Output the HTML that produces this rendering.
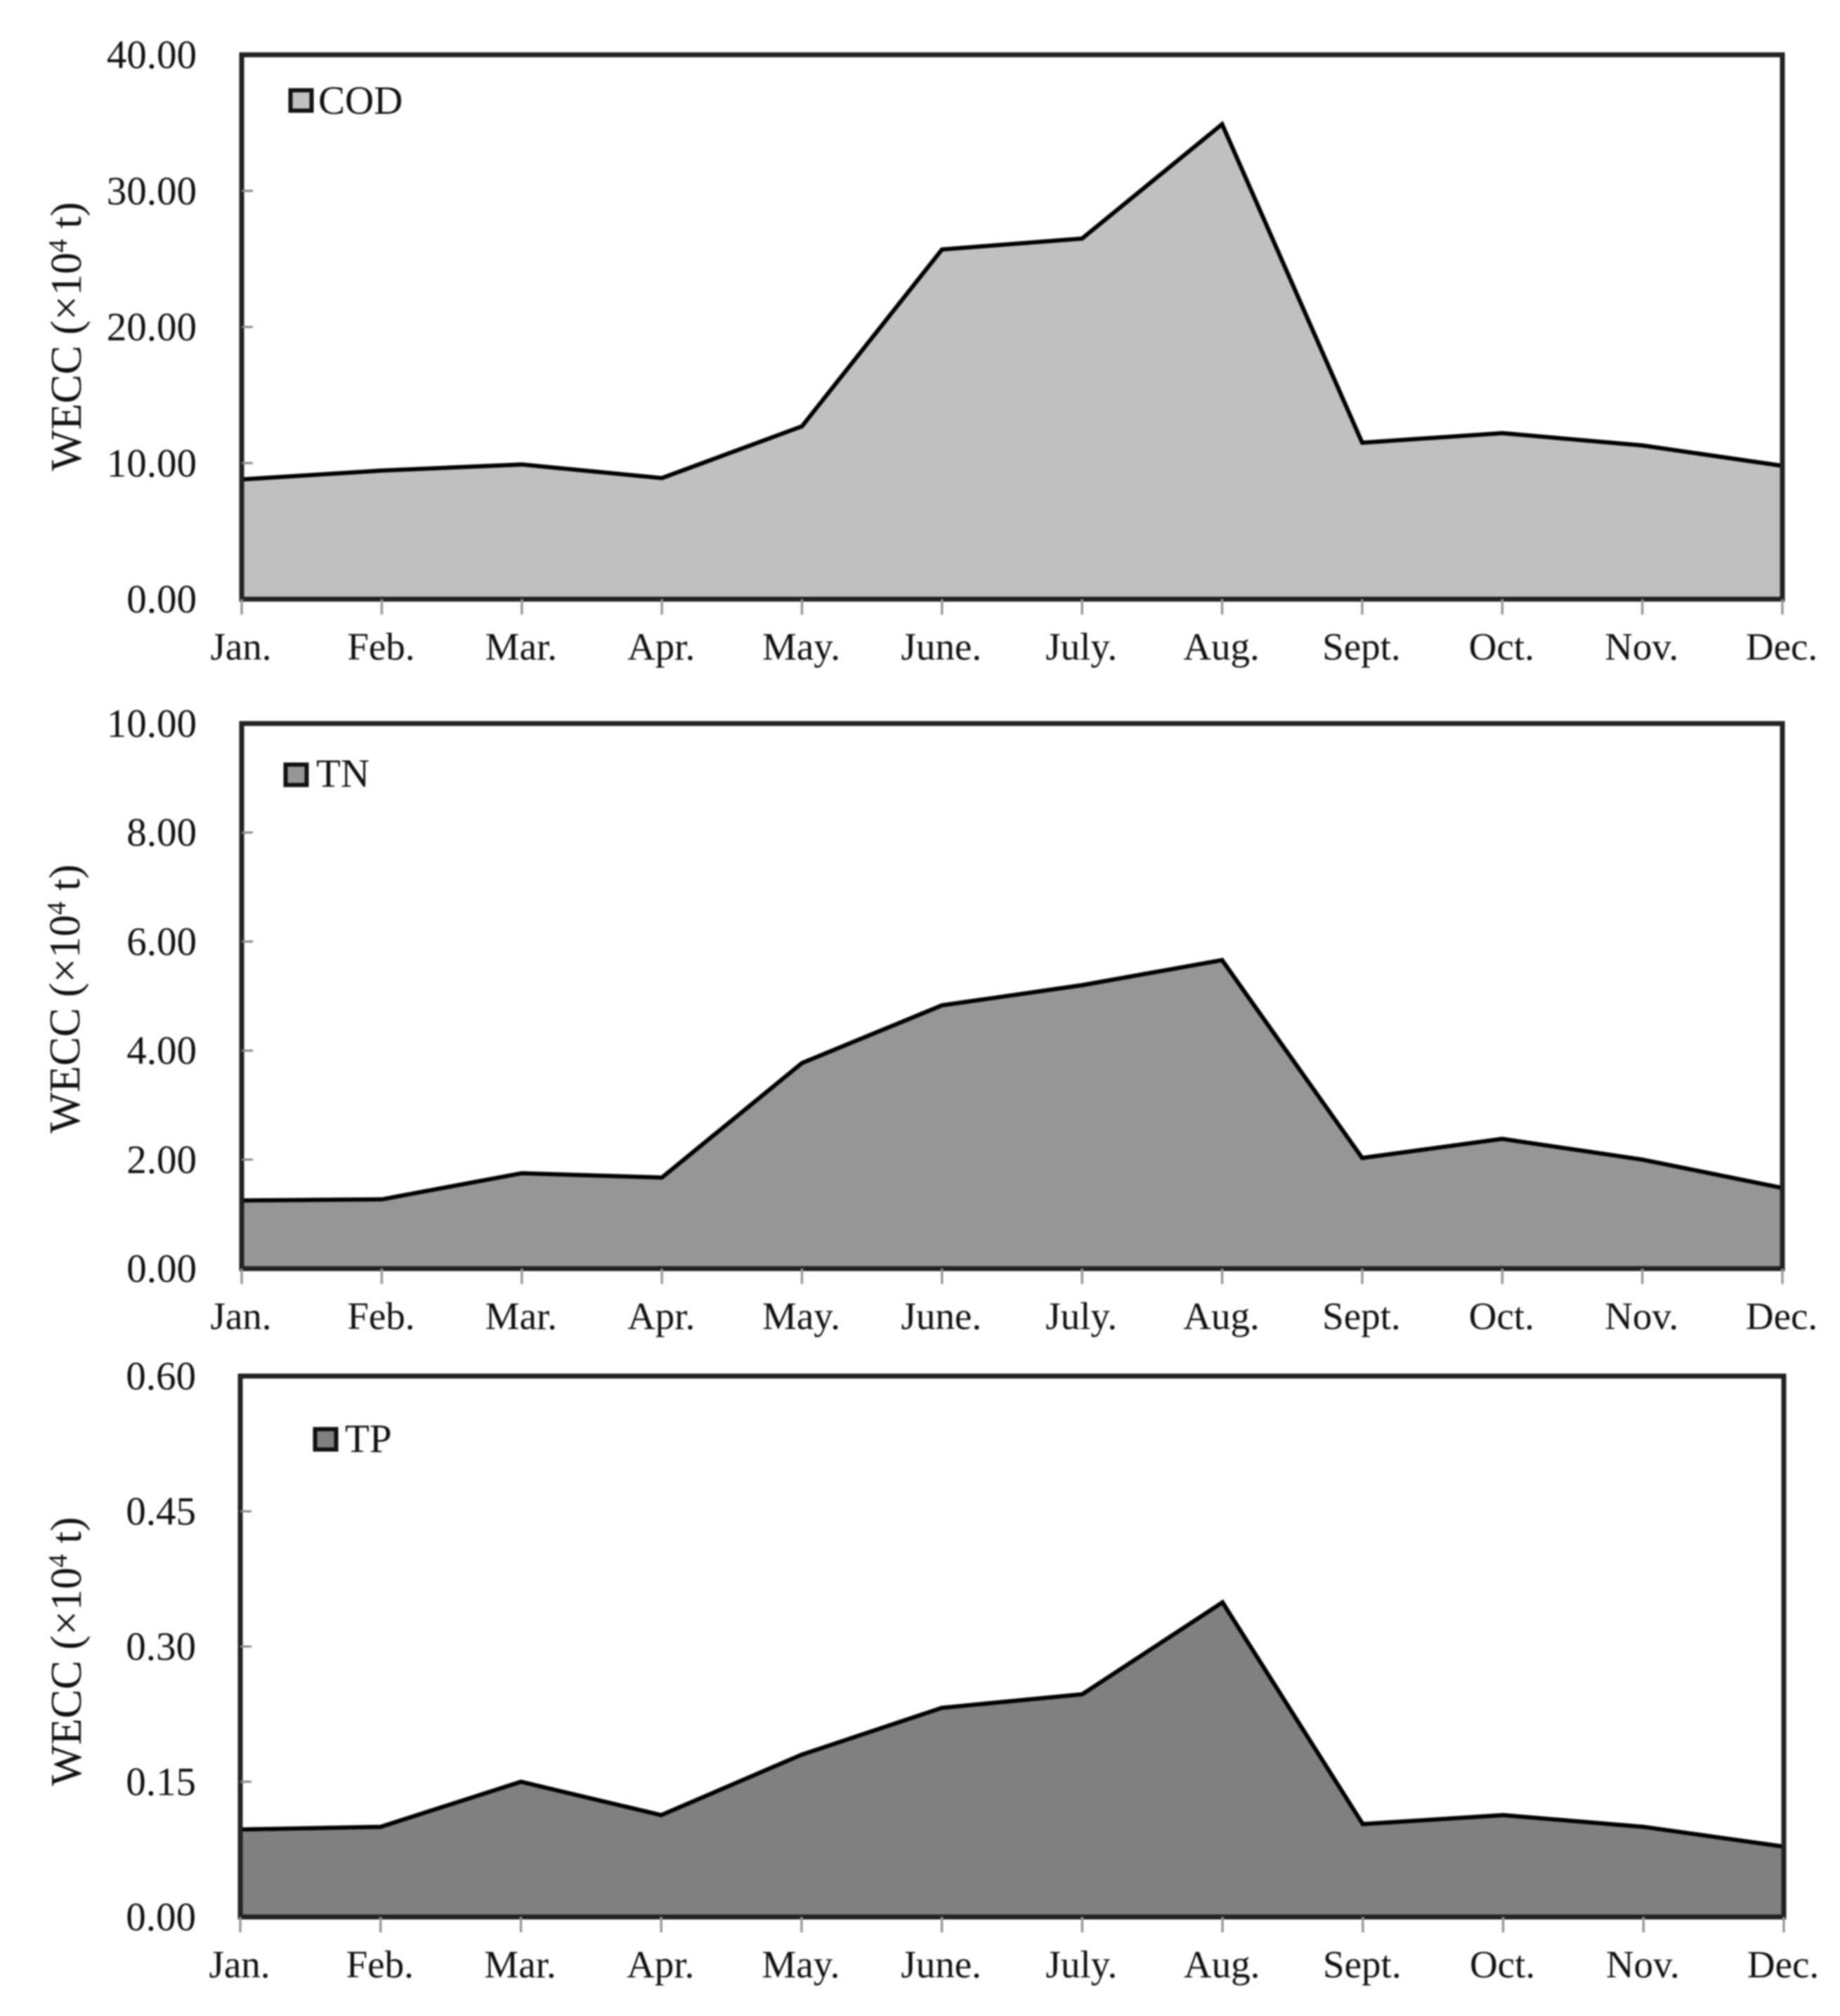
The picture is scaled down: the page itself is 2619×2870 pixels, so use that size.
<!DOCTYPE html>
<html lang="en">
<head>
<meta charset="utf-8">
<title>WECC monthly charts</title>
<style>
html,body{margin:0;padding:0;background:#fff;width:2619px;height:2870px;overflow:hidden}
svg{display:block;filter:blur(1.1px)}
text{font-family:"Liberation Serif",serif;fill:#111}
</style>
</head>
<body>
<svg id="figure" xmlns="http://www.w3.org/2000/svg" width="2619" height="2870" viewBox="0 0 2619 2870"></svg>
<script>
const months = ["Jan.","Feb.","Mar.","Apr.","May.","June.","July.","Aug.","Sept.","Oct.","Nov.","Dec."];
const codValues = [8.8,9.45,9.9,8.9,12.7,25.7,26.5,34.9,11.5,12.2,11.3,9.8];
const tnValues = [1.25,1.27,1.75,1.67,3.77,4.83,5.2,5.66,2.03,2.38,2.0,1.48];
const tpValues = [0.097,0.1,0.15,0.113,0.18,0.232,0.247,0.349,0.103,0.113,0.1,0.078];
const codTicks = ["0.00","10.00","20.00","30.00","40.00"];
const tnTicks = ["0.00","2.00","4.00","6.00","8.00","10.00"];
const tpTicks = ["0.00","0.15","0.30","0.45","0.60"];

const NS = "http://www.w3.org/2000/svg";
const figure = document.getElementById("figure");

function make(parent, tag, attrs, text) {
  const el = document.createElementNS(NS, tag);
  for (const k in attrs) el.setAttribute(k, attrs[k]);
  if (text !== undefined) el.textContent = text;
  parent.appendChild(el);
  return el;
}

function drawChart(cfg) {
  const g = make(figure, "g", {});
  
  

  const maxV = parseFloat(cfg.ticks[cfg.ticks.length - 1]);
  const xScale = function (i) { return cfg.left + (cfg.right - cfg.left) * i / (months.length - 1); };
  const yScale = function (v) { return cfg.bottom - (cfg.bottom - cfg.top) * v / maxV; };

  const pts = cfg.values.map(function (v, i) { return xScale(i).toFixed(1) + "," + yScale(v).toFixed(1); });
  const areaPts = [xScale(0).toFixed(1) + "," + cfg.bottom].concat(pts, [xScale(months.length - 1).toFixed(1) + "," + cfg.bottom]);

  const area = make(g, "polygon", { points: areaPts.join(" "), fill: cfg.fill, stroke: "none" });
  
  

  const line = make(g, "polyline", { points: pts.join(" "), fill: "none", stroke: "#000", "stroke-width": 6, "stroke-linejoin": "miter" });
  
  

  const frame = make(g, "rect", { x: cfg.left, y: cfg.top, width: cfg.right - cfg.left, height: cfg.bottom - cfg.top, fill: "none", stroke: "#222", "stroke-width": 7 });
  
  

  cfg.ticks.forEach(function (label) {
    const v = parseFloat(label);
    const y = yScale(v);
    if (v > 0 && v < maxV) {
      const tick = make(g, "line", { x1: cfg.left, x2: cfg.left + 16, y1: y, y2: y, stroke: "#888", "stroke-width": 3 });
      
      
    }
    const t = make(g, "text", { x: cfg.labelRight, y: y + 19, "text-anchor": "end", "font-size": 57 }, label);
    
    
  });

  months.forEach(function (m, i) {
    const x = xScale(i);
    const tick = make(g, "line", { x1: x, x2: x, y1: cfg.bottom, y2: cfg.bottom + 22, stroke: "#999", "stroke-width": 3.5 });
    
    
    const t = make(g, "text", { x: x - 1, y: cfg.bottom + 86, "text-anchor": "middle", "font-size": 55 }, m);
    
    
  });

  const title = make(g, "text", {
    transform: "translate(" + cfg.titleX + "," + cfg.titleY + ") rotate(-90)",
    "text-anchor": "middle", "font-size": 62, textLength: 383, lengthAdjust: "spacing"
  });
  
  
  make(title, "tspan", {}, "WECC (×10");
  make(title, "tspan", { dy: -20, "font-size": 38 }, "4");
  make(title, "tspan", { dy: 20 }, " t)");

  const swatch = make(g, "rect", { x: cfg.swatchX + 2.5, y: cfg.swatchY + 2.5, width: 30, height: 29, fill: cfg.fill, stroke: "#111", "stroke-width": 6 });
  
  
  const legendText = make(g, "text", { x: cfg.legendX, y: cfg.legendY, "font-size": 57 }, cfg.name);
  
  
}

drawChart({ key: "cod", name: "COD", values: codValues, ticks: codTicks, fill: "#c0c0c0",
  left: 344, right: 2537, top: 78, bottom: 853, labelRight: 280, titleX: 115, titleY: 479,
  swatchX: 411, swatchY: 126, legendX: 453, legendY: 162 });
drawChart({ key: "tn", name: "TN", values: tnValues, ticks: tnTicks, fill: "#969696",
  left: 344, right: 2537, top: 1030, bottom: 1806, labelRight: 280, titleX: 113, titleY: 1422,
  swatchX: 404, swatchY: 1086, legendX: 450, legendY: 1120 });
drawChart({ key: "tp", name: "TP", values: tpValues, ticks: tpTicks, fill: "#808080",
  left: 342, right: 2539, top: 1959, bottom: 2729, labelRight: 279, titleX: 115, titleY: 2351,
  swatchX: 446, swatchY: 2032, legendX: 491, legendY: 2067 });
</script>
</body>
</html>
